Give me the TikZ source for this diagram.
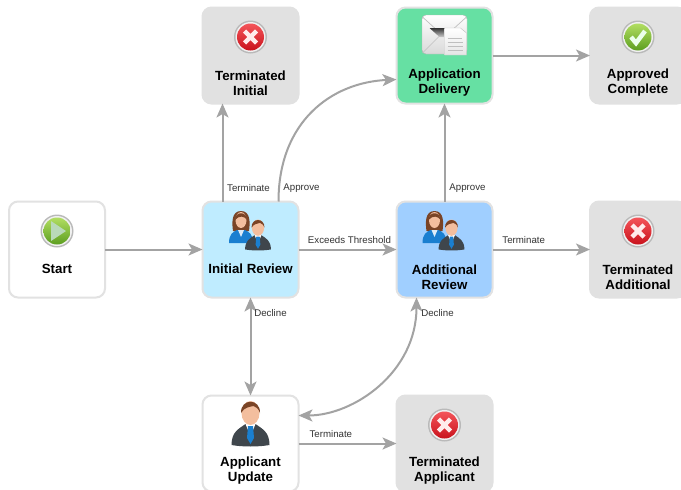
\documentclass[tikz,border=0pt]{standalone}
\usepackage{fontspec}
\setmainfont{Liberation Sans}
\usetikzlibrary{arrows.meta}
\definecolor{edgegray}{HTML}{A3A3A3}
\definecolor{bordergray}{HTML}{E2E2E2}
\definecolor{stopgray}{HTML}{E1E1E1}
\definecolor{initblue}{HTML}{BFECFF}
\definecolor{addblue}{HTML}{A0CFFF}
\definecolor{delgreen}{HTML}{66E0A3}
\definecolor{labelgray}{HTML}{333333}
\definecolor{suit}{HTML}{3F464C}
\definecolor{skin}{HTML}{F3BE9E}
\definecolor{hair}{HTML}{7A4426}
\definecolor{tieblue}{HTML}{1A7FD0}
\definecolor{redhi}{HTML}{F4555A}
\definecolor{redlo}{HTML}{C9121C}
\definecolor{greenhi}{HTML}{B2DE62}
\definecolor{greenlo}{HTML}{5C9E20}
\tikzset{
  box/.style={draw=bordergray,line width=2pt,rounded corners=9pt,minimum size=96pt,inner sep=0pt,outer sep=0pt},
  plainbox/.style={box,fill=white},
  stopbox/.style={box,fill=stopgray,draw=stopgray},
  title/.style={font=\bfseries\fontsize{13.3}{15}\selectfont,align=center,inner sep=0pt,text=black},
  link/.style={draw=edgegray,line width=2pt,-{Stealth[length=14pt,width=12pt,inset=3.5pt]}},
  both/.style={draw=edgegray,line width=2pt,{Stealth[length=14pt,width=12pt,inset=3.5pt]}-{Stealth[length=14pt,width=12pt,inset=3.5pt]}},
  lab/.style={font=\fontsize{9.7}{11}\selectfont,text=labelgray,inner sep=0pt},
  disc/.pic={
    \fill[gray!55] (0,0) circle (16.5pt);
    \fill[white!88!gray] (0,0) circle (15pt);
  },
  xicon/.pic={
    \pic {disc};
    \shade[top color=redhi,bottom color=redlo] (0,0) circle (13.5pt);
    \draw[white!92!red,line width=4.5pt] (-6,-6) -- (6,6) (-6,6) -- (6,-6);
  },
  okicon/.pic={
    \pic {disc};
    \shade[top color=greenhi,bottom color=greenlo] (0,0) circle (13.5pt);
    \draw[white!92!green,line width=4.5pt,line join=miter] (-7,0) -- (-2,6) -- (7,-6);
  },
  playicon/.pic={
    \pic {disc};
    \shade[top color=greenhi,bottom color=greenlo] (0,0) circle (13.5pt);
    \fill[white!82!green!70!gray] (-6,-10) -- (9,0) -- (-6,10) -- cycle;
  },
  manicon/.pic={
    \fill[suit] (-19,33) .. controls (-19,20) and (-12,17) .. (-5,12) -- (5,12) .. controls (12,17) and (19,20) .. (19,33)
      .. controls (8,35) and (-8,35) .. (-19,33) -- cycle;
    \fill[white] (-5,12) -- (5,12) -- (0,24) -- cycle;
    \fill[tieblue] (-2.5,14) -- (2.5,14) -- (3.5,26) -- (0,32) -- (-3.5,26) -- cycle;
    \fill[skin] (0,1) ellipse (9pt and 12pt);
    \fill[hair] (-9.5,1) .. controls (-10,-14) and (10,-14) .. (9.5,1) .. controls (8,-4) and (5,-5) .. (3,-6)
      .. controls (-1,-5) and (-6,-5) .. (-9.5,1) -- cycle;
  },
  womanicon/.pic={
    \fill[hair] (0,-9) .. controls (-10,-9) and (-9,4) .. (-8,11) -- (8,11) .. controls (9,4) and (10,-9) .. (0,-9) -- cycle;
    \fill[tieblue] (-12,23) .. controls (-12,14) and (-8,12) .. (-4,10) -- (4,10) .. controls (8,12) and (12,14) .. (12,23) -- cycle;
    \fill[white!85!tieblue] (-3,10) -- (3,10) -- (0,17) -- cycle;
    \fill[skin] (0,0) ellipse (5.5pt and 8pt);
    \fill[hair] (-6,0) .. controls (-6,-9) and (6,-9) .. (6,0) .. controls (4,-4) and (-2,-5) .. (-6,0) -- cycle;
  },
  coupleicon/.pic={
    \pic at (-10,-10) {womanicon};
    \pic[scale=.68] at (7,-3) {manicon};
  },
  mailicon/.pic={
    \shade[rounded corners=4pt,top color=white,bottom color=gray!30,draw=gray!60] (-22.5,-20) rectangle (22.5,19);
    \draw[gray!50,line width=.7pt] (-22,-18) -- (0,2) -- (22,-18) (-22,18) -- (-4,0);
    \shade[top color=black!80,bottom color=gray!40] (-15,-7) -- (0,-7) -- (0,2) -- (-5,2) -- cycle;
    \shade[top color=white,bottom color=gray!20,draw=gray!50] (0,-7) -- (16,-7) -- (22,-2) -- (22,20) -- (0,20) -- cycle;
    \draw[gray!50,line width=.7pt] (3,3) -- (17,3) (3,7) -- (18,7) (3,11) -- (18,11) (3,15) -- (18,15);
  },
}
\begin{document}
\begin{tikzpicture}[x=1pt,y=-1pt]
\useasboundingbox (0,0) rectangle (681,490);
\clip (0,0) rectangle (681,490);
\fill[white] (0,0) rectangle (681,490);
% boxes
\node[plainbox] (start) at (57,249.5) {};
\node[box,fill=initblue] (init) at (250.5,249.5) {};
\node[box,fill=addblue] (add) at (444.5,249.5) {};
\node[stopbox] (tadd) at (638,249.5) {};
\node[stopbox] (tinit) at (250.5,55.5) {};
\node[box,fill=delgreen] (deliv) at (444.5,55.5) {};
\node[stopbox] (appr) at (638,55.5) {};
\node[plainbox] (upd) at (250.5,443.5) {};
\node[stopbox] (tapp) at (444.5,443.5) {};
% titles
\node[title] (tstart) at (57,269) {Start};
\node[title] (tinitr) at (250.5,269) {Initial Review};
\node[title] (taddr) at (444.5,277) {Additional\\Review};
\node[title] (ttadd) at (638,277) {Terminated\\Additional};
\node[title] (ttinit) at (250.5,83) {Terminated\\Initial};
\node[title] (tdeliv) at (444.5,83) {Application\\Delivery};
\node[title] (tappr) at (638,83) {Approved\\Complete};
\node[title] (tupd) at (250.5,471) {Applicant\\Update};
\node[title] (ttapp) at (444.5,471) {Terminated\\Applicant};
% icons
\pic at (57,231) {playicon};
\pic at (250.5,37) {xicon};
\pic at (638,37) {okicon};
\pic at (638,231) {xicon};
\pic at (444.5,425) {xicon};
\pic at (250.5,412) {manicon};
\pic at (251,230) {coupleicon};
\pic at (444.5,230) {coupleicon};
\pic at (444.5,35) {mailicon};
% connectors
\draw[link] ([xshift=-28pt]init.north) -- node[lab,pos=0,xshift=26pt,yshift=13pt] (l1) {Terminate} ([xshift=-28pt]tinit.south);
\draw[link] ([xshift=28pt]init.north) .. controls +(0,-80) and +(-65,3) .. node[lab,pos=0,xshift=23pt,yshift=13pt] (l2) {Approve} ([yshift=-24pt]deliv.west);
\draw[link] (start) -- (init);
\draw[link] (init) -- node[lab,pos=.52,yshift=9pt] (l3) {Exceeds Threshold} (add);
\draw[link] (add) -- node[lab,pos=0,xshift=23pt,yshift=13pt] (l4) {Approve} (deliv);
\draw[link] (add) -- node[lab,pos=.32,yshift=9pt] (l5) {Terminate} (tadd);
\draw[link] (deliv) -- (appr);
\draw[both] (init) -- node[lab,pos=0,xshift=20pt,yshift=-16pt] (l6) {Decline} (upd);
\draw[both] ([xshift=-28pt]add.south) .. controls +(0,75) and +(55,0) .. node[lab,pos=0,xshift=21pt,yshift=-16pt] (l7) {Decline} ([yshift=28pt]upd.east);
\draw[link] (upd) -- node[lab,pos=.33,yshift=9pt] (l8) {Terminate} (tapp);
\end{tikzpicture}
\end{document}
